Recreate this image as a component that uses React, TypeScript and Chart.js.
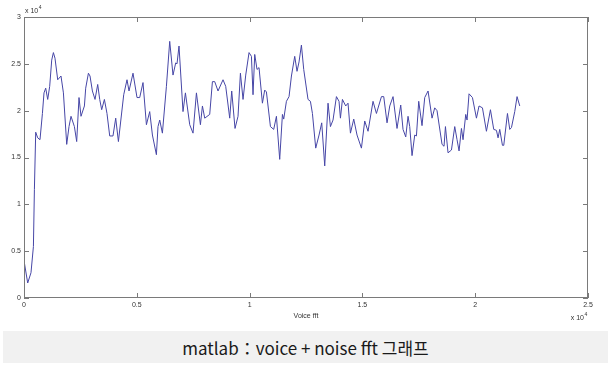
import React, { useEffect, useRef } from 'react';
import { Chart, registerables } from 'chart.js';

Chart.register(...registerables);

// Frequency (x) and magnitude (y), both in raw units (axes show them as x 10^4)
const freq: number[] = [
  0, 164, 310, 417, 461, 519, 607, 709, 816, 887, 962, 1051, 1139, 1228, 1303, 1374,
  1494, 1640, 1747, 1893, 1995, 2084, 2234, 2336, 2438, 2527, 2678, 2735, 2855, 2926,
  3032, 3148, 3267, 3356, 3444, 3564, 3679, 3799, 3945, 4065, 4185, 4420, 4566, 4655,
  4832, 5009, 5129, 5275, 5426, 5572, 5692, 5869, 5940, 6016, 6135, 6313, 6459, 6605,
  6725, 6782, 6871, 7048, 7155, 7346, 7492, 7643, 7820, 7909, 8011, 8232, 8352, 8454,
  8600, 8822, 8941, 9119, 9207, 9354, 9487, 9593, 9709, 9828, 9975, 10081, 10152, 10227,
  10329, 10418, 10568, 10670, 10745, 10923, 11069, 11189, 11335, 11455, 11513, 11632,
  11748, 11854, 12000, 12102, 12191, 12297, 12399, 12590, 12696, 12785, 12931, 13078,
  13197, 13330, 13477, 13583, 13698, 13849, 13964, 14026, 14115, 14261, 14363, 14470,
  14616, 14762, 14957, 15103, 15250, 15471, 15622, 15844, 15946, 16092, 16212, 16358,
  16535, 16699, 16801, 16921, 17023, 17098, 17200, 17320, 17395, 17497, 17643, 17763,
  17910, 18087, 18206, 18308, 18530, 18619, 18681, 18796, 18947, 19093, 19195, 19284,
  19390, 19461, 19581, 19639, 19727, 19878, 20055, 20170, 20321, 20498, 20676, 20822,
  20942, 21013, 21088, 21208, 21266, 21430, 21532, 21608, 21753, 21855, 21975,
];

const magnitude: number[] = [
  4000, 1600, 2700, 5500, 11600, 17700, 17100, 16900, 19700, 21900, 22400, 21200, 22600, 25400, 26200, 25600,
  23300, 23700, 21900, 16400, 18300, 19400, 18300, 16700, 21400, 19400, 20500, 22400, 24000, 23700,
  22100, 21200, 22800, 21200, 20100, 21200, 19700, 17300, 17300, 19200, 16700, 21700, 23300, 22100,
  24000, 21400, 21400, 23000, 18500, 19900, 17400, 15300, 18300, 19000, 17600, 22600, 27400, 23800,
  25100, 25000, 26900, 19900, 21900, 18500, 17600, 21900, 18500, 20500, 19200, 19600, 23100, 23100,
  22100, 23300, 22600, 19200, 22100, 18100, 19400, 24000, 21200, 23800, 26200, 25800, 21700, 26000,
  24400, 24600, 20800, 22200, 22000, 18300, 18000, 19400, 14800, 19600, 19100, 21000,
  21500, 23700, 25800, 24200, 25200, 27000, 24400, 21200, 21000, 19700, 16000, 17400,
  18700, 14100, 20800, 18300, 19000, 21500, 21000, 19200, 21200, 20500, 20800, 17600,
  19100, 17400, 16000, 18900, 17800, 21000, 19700, 21500, 21500, 18700, 20500, 21500,
  18100, 20600, 18000, 17200, 19400, 18300, 15200, 17400, 17300, 21000, 18400, 21400,
  22100, 19200, 20300, 20000, 16400, 16200, 18300, 15500, 15800, 18300, 16900, 15700,
  18100, 16900, 19600, 19000, 21800, 21400, 19200, 20500, 20300, 17800, 20100, 18000,
  17900, 17100, 18000, 16300, 16300, 19700, 18000, 18200, 19900, 21500, 20500,
];

const xTicks: number[] = [0, 5000, 10000, 15000, 20000, 25000];
const yTicks: number[] = [0, 5000, 10000, 15000, 20000, 25000, 30000];
const xTitle = 'Voice fft';
const exponentBase = 'x 10';
const exponentPower = '4';
const caption = 'matlab：voice + noise fft 그래프';

const AXIS_COLOR = '#7a7a7a';
const LABEL_COLOR = '#333333';
const LABEL_FONT = 'Liberation Sans';

const framePlugin = {
  id: 'matlabFrame',
  afterDraw(chart: any) {
    const ctx = chart.ctx;
    const { left, top, right, bottom } = chart.chartArea;
    const xs = chart.scales.x;
    const ys = chart.scales.y;
    const tl = 5;
    ctx.save();
    ctx.strokeStyle = AXIS_COLOR;
    ctx.lineWidth = 1;
    ctx.strokeRect(left + 0.5, top + 0.5, right - left - 1, bottom - top - 1);
    ctx.beginPath();
    for (const v of xTicks) {
      const px = Math.round(xs.getPixelForValue(v)) + 0.5;
      ctx.moveTo(px, bottom);
      ctx.lineTo(px, bottom - tl);
      ctx.moveTo(px, top);
      ctx.lineTo(px, top + tl);
    }
    for (const v of yTicks) {
      const py = Math.round(ys.getPixelForValue(v)) + 0.5;
      ctx.moveTo(left, py);
      ctx.lineTo(left + tl, py);
      ctx.moveTo(right, py);
      ctx.lineTo(right - tl, py);
    }
    ctx.stroke();

    ctx.fillStyle = LABEL_COLOR;
    ctx.textBaseline = 'alphabetic';
    ctx.textAlign = 'left';
    // top-left exponent
    ctx.font = `7px "${LABEL_FONT}"`;
    ctx.fillText(exponentBase, left + 1, top - 4);
    const w1 = ctx.measureText(exponentBase).width;
    ctx.font = `5px "${LABEL_FONT}"`;
    ctx.fillText(exponentPower, left + 1 + w1 + 0.5, top - 8);
    // bottom-right exponent
    ctx.font = `7px "${LABEL_FONT}"`;
    const w2 = ctx.measureText(exponentBase).width;
    const bx = right - w2 - 4;
    ctx.fillText(exponentBase, bx, bottom + 22);
    ctx.font = `5px "${LABEL_FONT}"`;
    ctx.fillText(exponentPower, bx + w2 + 0.5, bottom + 18);
    ctx.restore();
  },
};

export default function App() {
  const canvasRef = useRef<HTMLCanvasElement | null>(null);

  useEffect(() => {
    if (!canvasRef.current) return;
    const points = freq.map((f, i) => ({ x: f, y: magnitude[i] }));
    const chart = new Chart(canvasRef.current, {
      type: 'line',
      data: {
        datasets: [
          {
            data: points,
            borderColor: '#4646a6',
            borderWidth: 1,
            pointRadius: 0,
            tension: 0,
            fill: false,
          },
        ],
      },
      options: {
        responsive: false,
        animation: false,
        layout: { padding: { left: 0, top: 17, right: 23, bottom: 0 } },
        plugins: {
          legend: { display: false },
          tooltip: { enabled: false },
        },
        scales: {
          x: {
            type: 'linear',
            min: 0,
            max: 25000,
            afterFit: (s: any) => {
              s.height = 32;
            },
            afterBuildTicks: (s: any) => {
              s.ticks = xTicks.map((v) => ({ value: v }));
            },
            grid: { display: false, drawTicks: false },
            border: { display: false },
            ticks: {
              padding: 3,
              maxRotation: 0,
              autoSkip: false,
              color: LABEL_COLOR,
              font: { family: LABEL_FONT, size: 7 },
              callback: (v: any) => String(Number(v) / 10000),
            },
            title: {
              display: true,
              text: xTitle,
              color: LABEL_COLOR,
              font: { family: LABEL_FONT, size: 7 },
              padding: { top: 0, bottom: 10 },
            },
          },
          y: {
            type: 'linear',
            min: 0,
            max: 30000,
            afterFit: (s: any) => {
              s.width = 24;
            },
            afterBuildTicks: (s: any) => {
              s.ticks = yTicks.map((v) => ({ value: v }));
            },
            grid: { display: false, drawTicks: false },
            border: { display: false },
            ticks: {
              padding: 3,
              autoSkip: false,
              color: LABEL_COLOR,
              font: { family: LABEL_FONT, size: 7 },
              callback: (v: any) => String(Number(v) / 10000),
            },
          },
        },
      },
      plugins: [framePlugin],
    });
    return () => chart.destroy();
  }, []);

  return (
    <div
      style={{
        position: 'absolute',
        left: 0,
        top: 0,
        width: 611,
        height: 365,
        background: '#ffffff',
        overflow: 'hidden',
      }}
    >
      <canvas ref={canvasRef} width={611} height={330} style={{ display: 'block' }} />
      <div
        style={{
          position: 'absolute',
          left: 3,
          top: 331,
          width: 605,
          height: 32,
          background: '#f1f1f1',
          display: 'flex',
          alignItems: 'center',
          justifyContent: 'center',
          fontFamily: '"Noto Sans CJK KR", "Noto Sans", sans-serif',
          fontSize: 17,
          color: '#1a1a1a',
          whiteSpace: 'nowrap',
        }}
      >
        {caption}
      </div>
    </div>
  );
}
